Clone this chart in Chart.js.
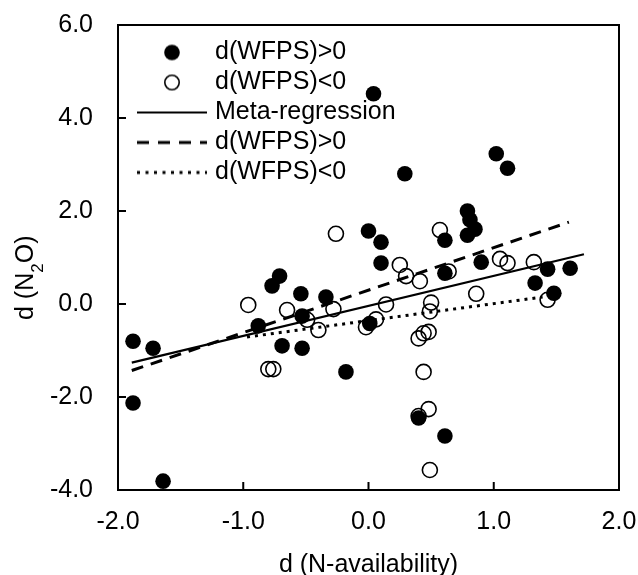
<!DOCTYPE html>
<html><head><meta charset="utf-8">
<script src="https://cdn.jsdelivr.net/npm/chart.js@4.4.1/dist/chart.umd.min.js"></script>
<style>html,body{margin:0;padding:0;background:#fff;} #wrap{width:638px;height:575px;}</style>
</head><body><div id="wrap"><canvas id="c" width="638" height="575"></canvas></div>
<script>
const FONT = "'Liberation Sans', Arial, sans-serif";
const xTicks = [-2, -1, 0, 1, 2];
const yTicks = [-4, -2, 0, 2, 4, 6];
const filledX = [-1.88, -1.72, -1.88, -1.64, -0.77, -0.71, -0.54, -0.88, -0.53, -0.69, -0.53, -0.34, -0.18, 0.00, 0.04, 0.10, 0.10, 0.01, 0.29, 0.40, 0.61, 0.61, 0.61, 0.79, 0.81, 0.85, 0.79, 0.90, 1.02, 1.11, 1.33, 1.43, 1.48, 1.61];
const filledY = [-0.80, -0.95, -2.13, -3.81, 0.39, 0.60, 0.22, -0.47, -0.26, -0.90, -0.95, 0.15, -1.46, 1.57, 4.52, 1.33, 0.88, -0.42, 2.80, -2.45, -2.84, 1.37, 0.66, 2.00, 1.81, 1.61, 1.48, 0.90, 3.23, 2.92, 0.45, 0.75, 0.23, 0.77];
const openX = [-0.96, -0.65, -0.49, -0.40, -0.28, -0.26, -0.80, -0.76, -0.02, 0.06, 0.14, 0.25, 0.30, 0.41, 0.57, 0.64, 0.50, 0.49, 0.86, 1.05, 1.11, 1.32, 1.43, 0.40, 0.44, 0.48, 0.44, 0.48, 0.40, 0.49];
const openY = [-0.02, -0.13, -0.34, -0.56, -0.11, 1.51, -1.40, -1.40, -0.50, -0.33, -0.01, 0.84, 0.60, 0.49, 1.59, 0.70, 0.03, -0.16, 0.22, 0.97, 0.88, 0.90, 0.09, -0.74, -0.63, -0.60, -1.46, -2.26, -2.41, -3.57];
const metaX = [-1.89, 1.72];
const metaY = [-1.26, 1.07];
const posX = [-1.89, 1.60];
const posY = [-1.43, 1.76];
const negX = [-0.97, 1.39];
const negY = [-0.71, 0.15];
const seriesNames = ['d(WFPS)>0', 'd(WFPS)<0', 'Meta-regression', 'd(WFPS)>0', 'd(WFPS)<0'];
const xTitle = 'd (N-availability)';
const yTitleParts = ['d (N', '2', 'O)'];

const pts = (xs, ys) => xs.map((x, i) => ({x: x, y: ys[i]}));

function icon(kind) {
  const c = document.createElement('canvas');
  c.width = 100; c.height = 20;
  const g = c.getContext('2d');
  g.strokeStyle = '#000'; g.fillStyle = '#000';
  const cx = 50, cy = 10;
  if (kind === 'filled') {
    g.beginPath(); g.arc(cx, cy, 7.8, 0, Math.PI * 2); g.fill();
  } else if (kind === 'open') {
    g.lineWidth = 1.6; g.beginPath(); g.arc(cx, cy, 7.2, 0, Math.PI * 2); g.stroke();
  } else {
    g.beginPath(); g.moveTo(cx - 35, cy); g.lineTo(cx + 35, cy);
    if (kind === 'solid') { g.lineWidth = 2.2; }
    if (kind === 'dash') { g.lineWidth = 3; g.setLineDash([12, 9]); }
    if (kind === 'dot') { g.lineWidth = 3; g.setLineDash([3, 5.5]); }
    g.stroke();
  }
  return c;
}
const icons = [icon('filled'), icon('open'), icon('solid'), icon('dash'), icon('dot')];

const framePlugin = {
  id: 'frame',
  afterLayout(chart) {
    const lg = chart.legend;
    if (lg) {
      const dx = 18.5, dy = 10;
      lg.left = chart.chartArea.left + dx; lg.right = lg.left + lg.width;
      lg.top = chart.chartArea.top + dy; lg.bottom = lg.top + lg.height;
    }
  },
  afterDraw(chart) {
    const {ctx, chartArea: a, scales} = chart;
    ctx.save();
    ctx.strokeStyle = '#000'; ctx.lineWidth = 2;
    ctx.beginPath();
    ctx.moveTo(a.left - 1, a.top); ctx.lineTo(a.right, a.top); ctx.lineTo(a.right, a.bottom + 1);
    ctx.stroke();
    ctx.beginPath();
    scales.x.ticks.forEach(t => {
      if (t.value === scales.x.min || t.value === scales.x.max) return;
      const px = scales.x.getPixelForValue(t.value);
      ctx.moveTo(px, a.bottom); ctx.lineTo(px, a.bottom - 8);
    });
    scales.y.ticks.forEach(t => {
      if (t.value === scales.y.min || t.value === scales.y.max) return;
      const py = scales.y.getPixelForValue(t.value);
      ctx.moveTo(a.left, py); ctx.lineTo(a.left + 8, py);
    });
    ctx.stroke();
    // y-axis title with subscript
    ctx.fillStyle = '#000';
    ctx.translate(33, 320); ctx.rotate(-Math.PI / 2);
    ctx.textAlign = 'left'; ctx.textBaseline = 'alphabetic';
    let x = 0;
    ctx.font = '25px ' + FONT; ctx.fillText(yTitleParts[0], x, 0); x += ctx.measureText(yTitleParts[0]).width;
    ctx.font = '17px ' + FONT; ctx.fillText(yTitleParts[1], x, 10); x += ctx.measureText(yTitleParts[1]).width;
    ctx.font = '25px ' + FONT; ctx.fillText(yTitleParts[2], x, 0);
    ctx.restore();
  }
};

new Chart(document.getElementById('c'), {
  type: 'scatter',
  data: {
    datasets: [
      {label: seriesNames[0], data: pts(filledX, filledY), pointRadius: 7.8, pointHoverRadius: 7.8, pointBackgroundColor: '#000', pointBorderColor: '#000', pointBorderWidth: 0},
      {label: seriesNames[1], data: pts(openX, openY), pointRadius: 7.5, pointHoverRadius: 7.5, pointBackgroundColor: 'rgba(0,0,0,0)', pointBorderColor: '#000', pointBorderWidth: 1.6},
      {label: seriesNames[2], data: pts(metaX, metaY), showLine: true, pointRadius: 0, borderColor: '#000', borderWidth: 2.2},
      {label: seriesNames[3], data: pts(posX, posY), showLine: true, pointRadius: 0, borderColor: '#000', borderWidth: 3, borderDash: [12, 8]},
      {label: seriesNames[4], data: pts(negX, negY), showLine: true, pointRadius: 0, borderColor: '#000', borderWidth: 3, borderDash: [3, 5]}
    ]
  },
  options: {
    responsive: false, animation: false, devicePixelRatio: 1, events: [],
    layout: {padding: {top: 25, right: 19, left: 0, bottom: 0}},
    plugins: {
      tooltip: {enabled: false},
      legend: {
        position: 'chartArea', align: 'start',
        labels: {
          usePointStyle: true, pointStyleWidth: 61, padding: 5,
          font: {family: FONT, size: 25}, color: '#000',
          generateLabels: (chart) => chart.data.datasets.map((d, i) => ({
            text: d.label, fillStyle: '#000', strokeStyle: '#000', lineWidth: 0,
            hidden: false, datasetIndex: i, pointStyle: icons[i], fontColor: '#000'
          }))
        }
      }
    },
    scales: {
      x: {
        type: 'linear', min: -2, max: 2,
        afterBuildTicks: s => { s.ticks = xTicks.map(v => ({value: v})); },
        afterFit: s => { s.height = 85; s.paddingLeft = 0; s.paddingRight = 0; },
        grid: {display: false, drawTicks: false},
        border: {display: true, color: '#000', width: 2},
        ticks: {font: {family: FONT, size: 25}, color: '#000', padding: 17, maxRotation: 0, autoSkip: false, callback: v => Number(v).toFixed(1)},
        title: {display: true, text: xTitle, font: {family: FONT, size: 25, lineHeight: 0.8}, color: '#000', padding: 0}
      },
      y: {
        type: 'linear', min: -4, max: 6,
        afterBuildTicks: s => { s.ticks = yTicks.map(v => ({value: v})); },
        afterFit: s => { s.width = 118; s.paddingTop = 0; s.paddingBottom = 0; },
        grid: {display: false, drawTicks: false},
        border: {display: true, color: '#000', width: 2},
        ticks: {font: {family: FONT, size: 25}, color: '#000', padding: 25, autoSkip: false, callback: v => Number(v).toFixed(1)},
        title: {display: false}
      }
    }
  },
  plugins: [framePlugin]
});
</script></body></html>
